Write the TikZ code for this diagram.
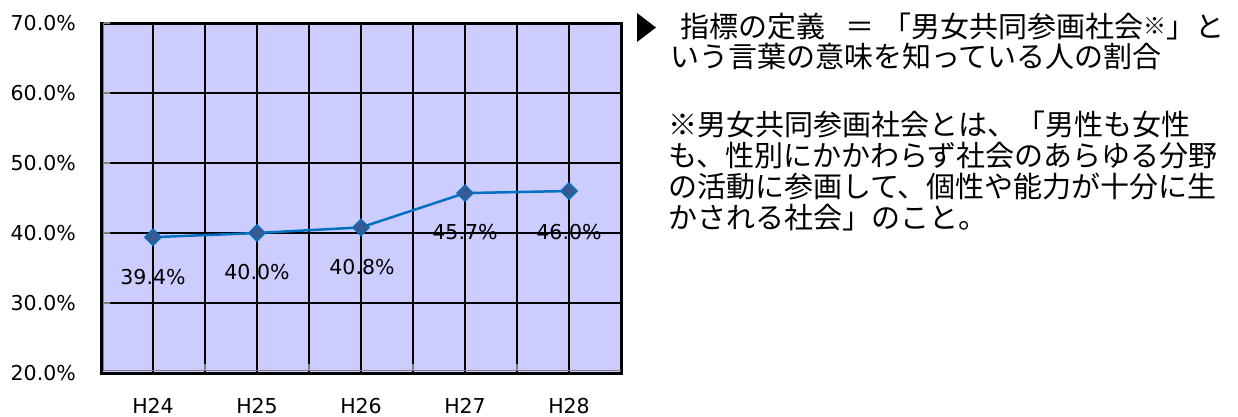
\documentclass[tikz,border=0pt]{standalone}
\usepackage{fontspec}
\setmainfont{DejaVu Sans}
\newfontfamily\cjk{Noto Sans CJK JP}
\usetikzlibrary{shapes.geometric}
\definecolor{plotbg}{RGB}{204,204,255}
\definecolor{serline}{RGB}{0,112,192}
\definecolor{markfill}{RGB}{55,90,145}
\definecolor{axisgray}{RGB}{128,128,128}
\tikzset{
  grid line/.style={black, line width=1.6bp},
  ylab/.style={anchor=east, inner sep=0pt, font=\fontsize{20.5bp}{24bp}\selectfont},
  xlab/.style={anchor=base, inner sep=0pt, font=\fontsize{20.5bp}{24bp}\selectfont},
  dlab/.style={anchor=center, inner sep=0pt, font=\fontsize{20.5bp}{24bp}\selectfont},
  jtext/.style={anchor=base west, inner sep=0pt, font=\cjk\fontsize{29bp}{31bp}\selectfont},
  marker/.style={diamond, draw=serline, fill=markfill, line width=1.2bp, minimum width=17bp, minimum height=17bp, inner sep=0pt},
}
\begin{document}
\begin{tikzpicture}[x=1bp,y=-1bp]
\useasboundingbox (0,0) rectangle (1238,416);
% plot area
\fill[plotbg] (101,23) rectangle (621,373);
\foreach \gx in {153,205,257,309,361,413,465,517,569}
  \draw[grid line] (\gx,23) -- (\gx,373);
\foreach \gy in {93,163,233,303}
  \draw[grid line] (101,\gy) -- (621,\gy);
\draw[black, line width=3bp] (101,23) rectangle (621,373);
\draw[axisgray, line width=1.5bp] (103.5,23) -- (103.5,370.5) -- (621,370.5);
\foreach \gy in {23,93,163,233,303}
  \draw[axisgray, line width=1.5bp] (103.5,\gy) -- (110,\gy);
\foreach \gx in {205,309,413,517}
  \draw[axisgray, line width=1.5bp] (\gx,370.5) -- (\gx,364);
% y labels
\node[ylab] (y70) at (76,23) {70.0\%};
\node[ylab] (y60) at (76,93) {60.0\%};
\node[ylab] (y50) at (76,163) {50.0\%};
\node[ylab] (y40) at (76,233) {40.0\%};
\node[ylab] (y30) at (76,303) {30.0\%};
\node[ylab] (y20) at (76,373) {20.0\%};
% x labels
\node[xlab] (h24) at (153,413) {H24};
\node[xlab] (h25) at (257,413) {H25};
\node[xlab] (h26) at (361,413) {H26};
\node[xlab] (h27) at (465,413) {H27};
\node[xlab] (h28) at (569,413) {H28};
% series
\coordinate (c1) at (153,237.2);
\coordinate (c2) at (257,233);
\coordinate (c3) at (361,227.4);
\coordinate (c4) at (465,193.1);
\coordinate (c5) at (569,191);
\draw[serline, line width=2.5bp, line join=round] (c1) -- (c2) -- (c3) -- (c4) -- (c5);
\node[marker] (m1) at (c1) {};
\node[marker] (m2) at (c2) {};
\node[marker] (m3) at (c3) {};
\node[marker] (m4) at (c4) {};
\node[marker] (m5) at (c5) {};
% data labels
\node[dlab] (d1) at (153,277) {39.4\%};
\node[dlab] (d2) at (257,272) {40.0\%};
\node[dlab] (d3) at (362,267) {40.8\%};
\node[dlab] (d4) at (465,232) {45.7\%};
\node[dlab] (d5) at (569,232) {46.0\%};
% definition text
\fill[black] (637,13) -- (656,27.5) -- (637,42) -- cycle;
\node[jtext] (t1) at (680,37) {指標の定義\hspace{20bp}＝\hspace{8bp}「男女共同参画社会\raisebox{3bp}{\fontsize{23bp}{25bp}\selectfont ※}」と};
\node[jtext] (t2) at (670,67) {いう言葉の意味を知っている人の割合};
\node[jtext] (t3) at (668,135) {※男女共同参画社会とは、「男性も女性};
\node[jtext] (t4) at (668,166) {も、性別にかかわらず社会のあらゆる分野};
\node[jtext] (t5) at (668,197) {の活動に参画して、個性や能力が十分に生};
\node[jtext] (t6) at (668,228) {かされる社会」のこと。};
\end{tikzpicture}
\end{document}
